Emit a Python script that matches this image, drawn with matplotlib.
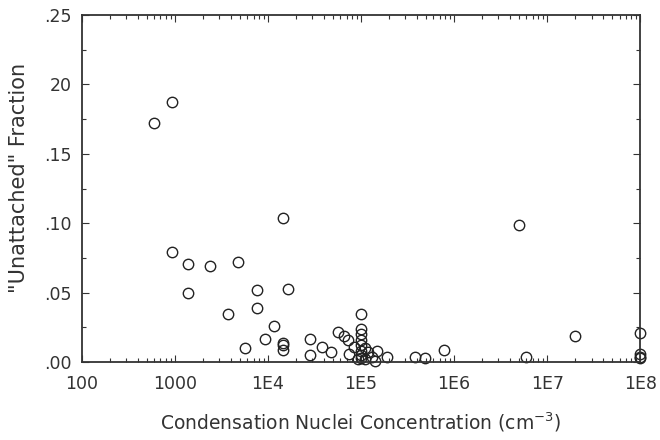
import matplotlib
matplotlib.use("Agg")
import matplotlib.pyplot as plt
from matplotlib.ticker import FixedLocator, LogLocator, NullFormatter

# Data
conc = [590, 930, 940, 1400, 1400, 2400, 4800, 3700, 5700, 7600, 7600, 9300,
        11500, 14500, 16500, 14500, 14500, 14500, 28000, 28000, 38000, 47000,
        57000, 66000, 72000, 75000, 100000, 100000, 100000, 100000, 100000,
        100000, 100000, 100000, 92000, 110000, 120000, 130000, 140000, 150000,
        85000, 110000, 190000, 380000, 490000, 770000, 5.0e6, 5.9e6, 2.0e7,
        1e8, 1e8, 1e8, 1e8]
frac = [0.172, 0.187, 0.079, 0.071, 0.050, 0.069, 0.072, 0.035, 0.010, 0.052,
        0.039, 0.017, 0.026, 0.104, 0.053, 0.014, 0.012, 0.009, 0.017, 0.005,
        0.011, 0.007, 0.022, 0.019, 0.016, 0.006, 0.035, 0.024, 0.020, 0.016,
        0.012, 0.008, 0.005, 0.003, 0.002, 0.010, 0.007, 0.004, 0.001, 0.008,
        0.011, 0.002, 0.004, 0.004, 0.003, 0.009, 0.099, 0.004, 0.019,
        0.021, 0.006, 0.004, 0.003]

xticks = [1e2, 1e3, 1e4, 1e5, 1e6, 1e7, 1e8]
xtick_labels = ["100", "1000", "1E4", "1E5", "1E6", "1E7", "1E8"]
yticks = [0.0, 0.05, 0.10, 0.15, 0.20, 0.25]
ytick_labels = [".00", ".05", ".10", ".15", "20", ".25"]

ink = "#333333"
plt.rcParams['font.family'] = ['DejaVu Sans']

fig = plt.figure(figsize=(6.6, 4.4), dpi=100)
ax = fig.add_axes([0.124, 0.177, 0.846, 0.789])

ax.plot(conc, frac, linestyle="none", marker="o", markersize=7.5,
        markerfacecolor="none", markeredgecolor="#222222", markeredgewidth=1.0,
        clip_on=False)

ax.set_xscale("log")
ax.set_xlim(1e2, 1e8)
ax.set_ylim(0, 0.25)

ax.xaxis.set_major_locator(FixedLocator(xticks))
ax.set_xticklabels(xtick_labels)
ax.xaxis.set_minor_locator(LogLocator(base=10, subs=range(2, 10), numticks=20))
ax.xaxis.set_minor_formatter(NullFormatter())
ax.set_yticks(yticks)
ax.set_yticklabels(ytick_labels)
ax.set_yticks([0.025, 0.075, 0.125, 0.175, 0.225], minor=True)

ax.tick_params(which="both", direction="in", top=True, right=True, colors=ink,
               labelsize=12.5, width=0.8)
ax.tick_params(which="major", length=5)
ax.tick_params(axis="x", which="major", pad=9)
ax.tick_params(axis="y", which="major", pad=7)
ax.tick_params(which="minor", length=3)
for s in ax.spines.values():
    s.set_color(ink)
    s.set_linewidth(1.3)

ax.set_xlabel("Condensation Nuclei Concentration (cm$^{-3}$)", fontsize=13.5,
              color=ink)
ax.xaxis.set_label_coords(0.5, -0.14)
ax.set_ylabel('"Unattached" Fraction', fontsize=15, color=ink)
ax.yaxis.set_label_coords(-0.094, 0.53)

fig.savefig("out.png", dpi=100)
